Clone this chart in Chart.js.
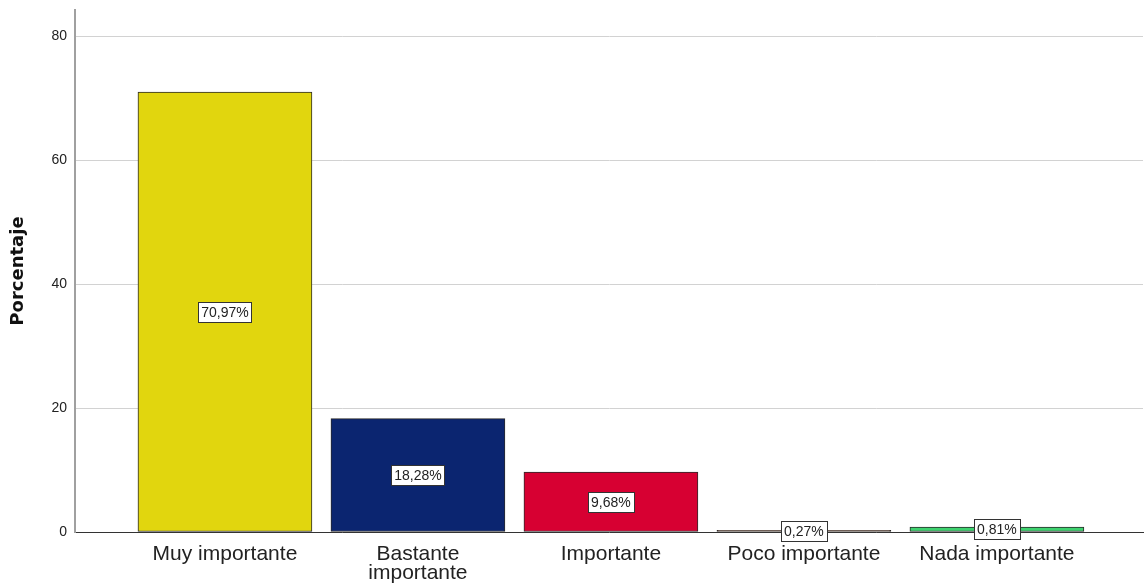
<!DOCTYPE html>
<html>
<head>
<meta charset="utf-8">
<script src="https://cdn.jsdelivr.net/npm/chart.js@4/dist/chart.umd.min.js"></script>
<style>
  html, body { margin: 0; padding: 0; background: #fff; }
  #wrap { width: 1148px; height: 588px; position: relative; }
</style>
</head>
<body>
<div id="wrap"><canvas id="c"></canvas></div>
<script>
const categories = ['Muy importante', ['Bastante', 'importante'], 'Importante', 'Poco importante', 'Nada importante'];
const values = [70.97, 18.28, 9.68, 0.27, 0.81];
const valueLabels = ['70,97%', '18,28%', '9,68%', '0,27%', '0,81%'];
const barColors = ['#e1d60e', '#0b2570', '#d70032', '#4a2a1a', '#3ed36f'];
const yTicks = [0, 20, 40, 60, 80];

const FONT = "'Liberation Sans', Arial, sans-serif";

const labelPlugin = {
  id: 'valueBoxes',
  afterDatasetsDraw(chart) {
    const ctx = chart.ctx;
    const meta = chart.getDatasetMeta(0);
    ctx.save();
    ctx.font = '14px ' + FONT;
    ctx.textAlign = 'center';
    ctx.textBaseline = 'middle';
    meta.data.forEach((bar, i) => {
      const txt = valueLabels[i];
      const cx = bar.x;
      const cy = (bar.y + bar.base) / 2;
      const w = ctx.measureText(txt).width + 6;
      const h = 20;
      ctx.fillStyle = '#ffffff';
      ctx.fillRect(Math.round(cx - w / 2) + 0.5, Math.round(cy - h / 2) + 0.5, Math.round(w), h);
      ctx.strokeStyle = '#333333';
      ctx.lineWidth = 1;
      ctx.strokeRect(Math.round(cx - w / 2) + 0.5, Math.round(cy - h / 2) + 0.5, Math.round(w), h);
      ctx.fillStyle = '#222222';
      ctx.fillText(txt, cx, cy + 1);
    });
    ctx.restore();
  }
};

new Chart(document.getElementById('c'), {
  type: 'bar',
  data: {
    datasets: [{
      data: values.map((v, i) => ({ x: i, y: v })),
      backgroundColor: barColors,
      borderColor: '#2a2a2a',
      borderWidth: 1,
      borderSkipped: false,
      barThickness: 174
    }]
  },
  options: {
    responsive: true,
    maintainAspectRatio: false,
    animation: false,
    layout: { padding: { top: 10, right: 5, left: 0, bottom: 0 } },
    plugins: { legend: { display: false }, tooltip: { enabled: false } },
    scales: {
      x: {
        type: 'linear',
        offset: false,
        min: -0.777,
        max: 4.757,
        afterBuildTicks(scale) { scale.ticks = categories.map((c, i) => ({ value: i })); },
        afterFit(scale) { scale.height = 56; scale.paddingLeft = 0; scale.paddingRight = 0; },
        grid: { display: false, drawTicks: false },
        border: { display: true, color: '#333333', width: 1 },
        ticks: {
          autoSkip: false,
          maxRotation: 0,
          padding: 13,
          color: '#222222',
          font: { family: FONT, size: 21, lineHeight: 0.9 },
          callback: (v) => categories[v]
        }
      },
      y: {
        min: 0,
        max: 84.2,
        afterBuildTicks(scale) { scale.ticks = yTicks.map(v => ({ value: v })); },
        afterFit(scale) { scale.width = 75; scale.paddingTop = 0; scale.paddingBottom = 0; },
        grid: { color: '#d2d2d2', lineWidth: 1, drawTicks: false },
        border: { display: true, color: '#a0a0a0', width: 2 },
        ticks: {
          padding: 8,
          color: '#222222',
          font: { family: FONT, size: 14 }
        },
        title: {
          display: true,
          text: 'Porcentaje',
          color: '#111111',
          padding: { top: 8, bottom: 0 },
          font: { family: "'DejaVu Sans', sans-serif", size: 18, weight: 'bold' }
        }
      }
    }
  },
  plugins: [labelPlugin]
});
</script>
</body>
</html>
